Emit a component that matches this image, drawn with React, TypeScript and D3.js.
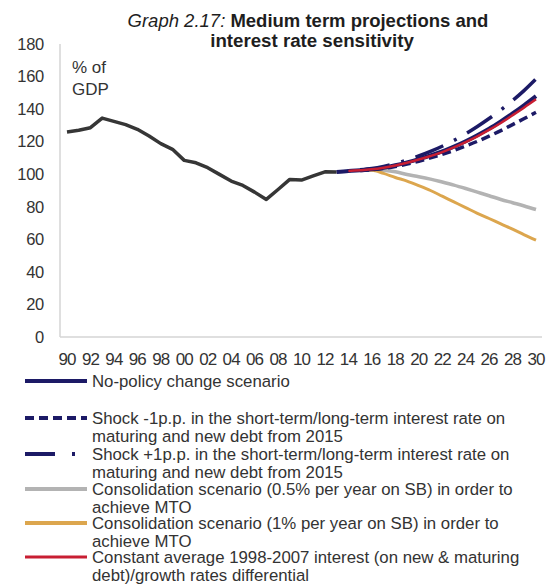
import React from "react";
import * as d3 from "d3";

const histYears = [1990,1991,1992,1993,1994,1995,1996,1997,1998,1999,2000,2001,2002,2003,2004,2005,2006,2007,2008,2009,2010,2011,2012,2013];
const histValues = [126,127,128.6,134.5,132.5,130.5,127.6,123.5,118.8,115.3,108.5,107,104,99.9,95.8,93.1,89,84.5,90.6,96.8,96.4,99,101.5,101.3];

const projYears = [2013,2014,2015,2016,2017,2018,2019,2020,2021,2022,2023,2024,2025,2026,2027,2028,2029,2030];
const noPolicy = [101.3,102,102.5,103,104,105.5,107.3,109.3,111.5,114,117,120.3,124,128,132.5,137.3,142.5,148];
const shockMinus = [101.3,102,102.3,102.7,103.5,104.7,106.2,108,110,112.2,114.6,117.3,120.2,123.4,126.8,130.5,134.2,138];
const shockPlus = [101.3,102,102.7,103.5,104.8,106.5,108.7,111.2,114,117.2,120.8,124.8,129.3,134.2,139.5,145.2,151.5,158.5];
const consHalf = [101.3,102,102.5,103,102.5,101.5,99.8,98.5,97,95.2,93.3,91.2,89,86.8,84.5,82.5,80.5,78.3];
const consOne = [101.3,102,102.5,102.5,100.5,98,95.8,93,90,86.5,83,79.5,76,72.8,69.5,66.3,62.8,59.5];
const constAvg = [101.3,102,102.5,103,104,105.4,107.1,109,111.2,113.6,116.5,119.7,123.3,127.2,131.5,136.2,141,146];

const yTicks = [0,20,40,60,80,100,120,140,160,180];
const xTicks = d3.range(1990, 2031, 2);

const legendItems = [
  { lines: ["No-policy change scenario"], color: "#1c1a66", dash: "", width: 4 },
  { lines: ["Shock -1p.p. in the short-term/long-term interest rate on", "maturing and new debt from 2015"], color: "#1c1a66", dash: "9,5", width: 4 },
  { lines: ["Shock +1p.p. in the short-term/long-term interest rate on", "maturing and new debt from 2015"], color: "#1c1a66", dash: "30,17,3,17", width: 4 },
  { lines: ["Consolidation scenario (0.5% per year on SB) in order to", "achieve MTO"], color: "#b3b3b3", dash: "", width: 4 },
  { lines: ["Consolidation scenario (1% per year on SB) in order to", "achieve MTO"], color: "#dca64e", dash: "", width: 4 },
  { lines: ["Constant average 1998-2007 interest (on new & maturing", "debt)/growth rates differential"], color: "#c81e32", dash: "", width: 3 },
];
const legendY = [381, 418, 454, 489, 523, 557];

export default function App() {
  const x = d3.scaleLinear().domain([1990, 2030]).range([67, 536]);
  const y = d3.scaleLinear().domain([0, 180]).range([337, 44]);
  const line = (ys: number[], vs: number[]) =>
    d3.line<number>().x((_, i) => x(ys[i])).y((v) => y(v)).curve(d3.curveMonotoneX)(vs) || "";
  const histLine = d3.line<number>().x((_, i) => x(histYears[i])).y((v) => y(v))(histValues) || "";
  const font = "'Liberation Sans', Arial, sans-serif";

  const series = [
    { vals: consHalf, color: "#b3b3b3", dash: "", w: 3.5, from: 3 },
    { vals: consOne, color: "#dca64e", dash: "", w: 3, from: 2 },
    { vals: shockMinus, color: "#1c1a66", dash: "9,5", w: 3.5, from: 2 },
    { vals: shockPlus, color: "#1c1a66", dash: "30,12,3,12", w: 3.5, from: 2 },
    { vals: noPolicy, color: "#1c1a66", dash: "", w: 4, from: 0 },
    { vals: constAvg, color: "#c81e32", dash: "", w: 2.5, from: 1 },
  ];

  return (
    <svg width={550} height={585} style={{ position: "absolute", left: 0, top: 0 }} fontFamily={font}>
      <rect width={550} height={585} fill="#fff" />
      <text x={308} y={27} textAnchor="middle" fontSize={18.5} fill="#1e1e1e">
        <tspan fontStyle="italic">Graph 2.17: </tspan>
        <tspan fontWeight="bold">Medium term projections and</tspan>
      </text>
      <text x={312} y={47} textAnchor="middle" fontSize={18.7} fontWeight="bold" fill="#1e1e1e">interest rate sensitivity</text>

      <line x1={60} x2={542} y1={337} y2={337} stroke="#d4d4d4" strokeWidth={1.5} />
      <line x1={60} x2={60} y1={44} y2={337} stroke="#d4d4d4" strokeWidth={1.5} />

      {yTicks.map((t) => (
        <text key={t} x={44} y={y(t)} dy="0.35em" textAnchor="end" fontSize={16.5} fill="#333" letterSpacing={-0.3}>{t}</text>
      ))}
      {xTicks.map((t) => (
        <text key={t} x={x(t)} y={365} textAnchor="middle" fontSize={17} fill="#333" letterSpacing={-0.9}>
          {String(t).slice(2)}
        </text>
      ))}

      <text x={72} y={73} fontSize={17} fill="#333">% of</text>
      <text x={72} y={95} fontSize={17} fill="#333">GDP</text>

      <path d={histLine} fill="none" stroke="#363636" strokeWidth={3.5} strokeLinejoin="round" />
      {series.map((s, i) => {
        const ys = projYears.slice(s.from);
        const vs = s.vals.slice(s.from);
        return (
          <path key={i} d={line(ys, vs)} fill="none" stroke={s.color} strokeWidth={s.w}
            strokeDasharray={s.dash || undefined} strokeLinecap="butt" />
        );
      })}

      {legendItems.map((it, i) => (
        <g key={i}>
          <line x1={25} x2={87} y1={legendY[i]} y2={legendY[i]} stroke={it.color} strokeWidth={it.width}
            strokeDasharray={it.dash || undefined} />
          {it.lines.map((l, j) => (
            <text key={j} x={92} y={legendY[i] + j * 18} dy="0.35em" fontSize={16.8} fill="#333">{l}</text>
          ))}
        </g>
      ))}
    </svg>
  );
}
